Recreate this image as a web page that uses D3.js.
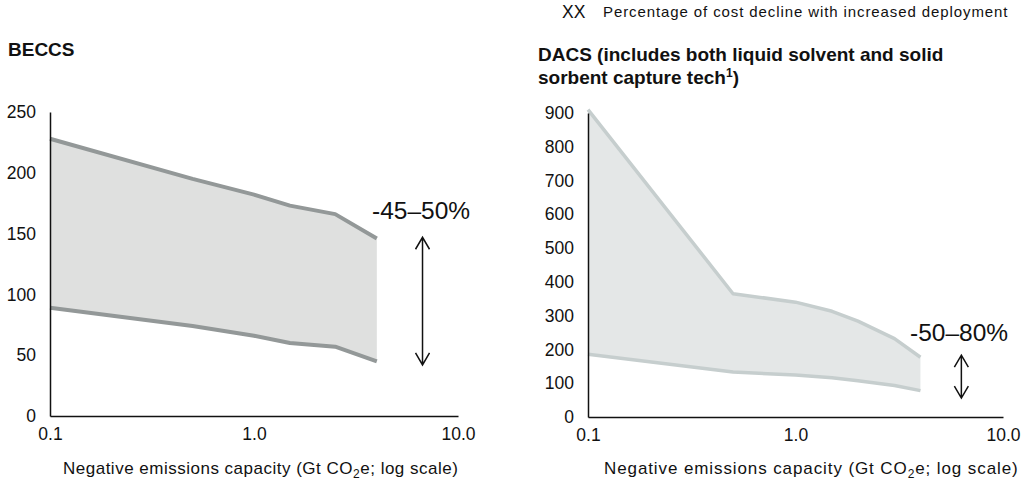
<!DOCTYPE html>
<html>
<head>
<meta charset="utf-8">
<script src="https://cdn.jsdelivr.net/npm/d3@7"></script>
<style>
  body { margin: 0; background: #fff; }
  svg { display: block; font-family: "Liberation Sans", Arial, sans-serif; }
</style>
</head>
<body>
<svg id="chart" width="1024" height="488"></svg>
<script>
// ---------- DATA ----------
const xTicks = [0.1, 1, 10];

const beccsX     = [0.1, 0.5, 1.0, 1.5, 2.5, 4.0];
const beccsUpper = [228, 195, 182, 173, 166, 146];
const beccsLower = [89, 74, 66, 60, 57, 45];
const beccsYTicks = [0, 50, 100, 150, 200, 250];

const dacsX     = [0.1, 0.5, 1.0, 1.5, 2.0, 3.0, 4.0];
const dacsUpper = [910, 365, 340, 313, 284, 232, 177];
const dacsLower = [186, 133, 124, 116, 107, 93, 78];
const dacsYTicks = [0, 100, 200, 300, 400, 500, 600, 700, 800, 900];

const beccsNote = { label: "-45–50%", x: 6.7, top: 147, bottom: 42 };
const dacsNote  = { label: "-50–80%", x: 6.3, top: 183, bottom: 56 };

// ---------- DRAW ----------
const svg = d3.select("#chart");

function panel(cfg) {
  const x = d3.scaleLog().domain([0.1, 10]).range([cfg.x0, cfg.x1]);
  const y = d3.scaleLinear().domain([0, cfg.yMax]).range([cfg.yb, cfg.yt]);
  const g = svg.append("g");

  const pts = cfg.xs.map((v, i) => ({ x: v, lo: cfg.lower[i], hi: cfg.upper[i] }));

  g.append("path")
    .datum(pts)
    .attr("fill", cfg.fill)
    .attr("d", d3.area().x(d => x(d.x)).y0(d => y(d.lo)).y1(d => y(d.hi)));

  const line = d3.line().x(d => x(d.x));
  g.append("path").datum(pts)
    .attr("fill", "none").attr("stroke", cfg.stroke).attr("stroke-width", cfg.sw)
    .attr("stroke-linejoin", "round")
    .attr("d", line.y(d => y(d.hi)));
  g.append("path").datum(pts)
    .attr("fill", "none").attr("stroke", cfg.stroke).attr("stroke-width", cfg.sw)
    .attr("stroke-linejoin", "round")
    .attr("d", line.y(d => y(d.lo)));

  // axes
  const ya = g.append("g").attr("transform", `translate(${cfg.x0},0)`)
    .call(d3.axisLeft(y).tickValues(cfg.yTicks).tickSize(0).tickSizeOuter(0).tickPadding(14).tickFormat(d3.format("d")));
  ya.select(".domain").attr("stroke", "#111").attr("stroke-width", 1.5);
  ya.selectAll("text").attr("font-size", 17.5).attr("fill", "#111").attr("font-family", "Liberation Sans, Arial, sans-serif");

  const xa = g.append("g").attr("transform", `translate(0,${cfg.yb})`)
    .call(d3.axisBottom(x).tickValues(xTicks).tickSize(0).tickSizeOuter(0).tickPadding(12).tickFormat(d3.format(".1f")));
  xa.select(".domain").attr("stroke", "#111").attr("stroke-width", 1.5);
  xa.selectAll("text").attr("font-size", 17.5).attr("fill", "#111").attr("font-family", "Liberation Sans, Arial, sans-serif");

  // axis title
  const t = g.append("text")
    .attr("x", cfg.titleX).attr("y", 474)
    .attr("font-size", 17).attr("letter-spacing", cfg.titleLS).attr("fill", "#111");
  t.append("tspan").text("Negative emissions capacity (Gt CO");
  t.append("tspan").text("2").attr("font-size", 12).attr("dy", 4);
  t.append("tspan").text("e; log scale)").attr("dy", -4);

  // annotation arrow
  const n = cfg.note;
  const ax = x(n.x), ay0 = y(n.top), ay1 = y(n.bottom);
  const hw = 7, hh = 12;
  g.append("path")
    .attr("fill", "none").attr("stroke", "#111").attr("stroke-width", 1.5)
    .attr("d", `M${ax},${ay0}L${ax},${ay1}` +
      `M${ax - hw},${ay0 + hh}L${ax},${ay0}L${ax + hw},${ay0 + hh}` +
      `M${ax - hw},${ay1 - hh}L${ax},${ay1}L${ax + hw},${ay1 - hh}`);
  g.append("text").attr("x", cfg.noteX).attr("y", cfg.noteY)
    .attr("font-size", 24.5).attr("fill", "#111").text(n.label);
}

panel({
  x0: 50, x1: 458, yb: 416, yt: 112, yMax: 250,
  xs: beccsX, upper: beccsUpper, lower: beccsLower, yTicks: beccsYTicks,
  fill: "#dfe0df", stroke: "#939898", sw: 4,
  note: beccsNote, noteX: 372, noteY: 219, titleX: 63, titleLS: 0.5
});

panel({
  x0: 588, x1: 1003, yb: 417, yt: 113, yMax: 900,
  xs: dacsX, upper: dacsUpper, lower: dacsLower, yTicks: dacsYTicks,
  fill: "#e4e7e7", stroke: "#c6cece", sw: 3.5,
  note: dacsNote, noteX: 910, noteY: 341, titleX: 604, titleLS: 0.9
});

// titles
svg.append("text").attr("x", 8).attr("y", 56)
  .attr("font-size", 19).attr("font-weight", "bold").attr("fill", "#111").text("BECCS");

const dt = svg.append("text").attr("x", 538).attr("y", 61)
  .attr("font-size", 19).attr("font-weight", "bold").attr("fill", "#111");
dt.append("tspan").attr("x", 538).text("DACS (includes both liquid solvent and solid");
dt.append("tspan").attr("x", 538).attr("dy", 23).text("sorbent capture tech");
dt.append("tspan").text("1").attr("font-size", 12).attr("dy", -7);
dt.append("tspan").text(")").attr("dy", 7);

// legend
svg.append("text").attr("x", 562).attr("y", 18).attr("font-size", 17.5).attr("fill", "#111").text("XX");
svg.append("text").attr("x", 603).attr("y", 17).attr("font-size", 15).attr("letter-spacing", 0.9).attr("fill", "#111")
  .text("Percentage of cost decline with increased deployment");
</script>
</body>
</html>
